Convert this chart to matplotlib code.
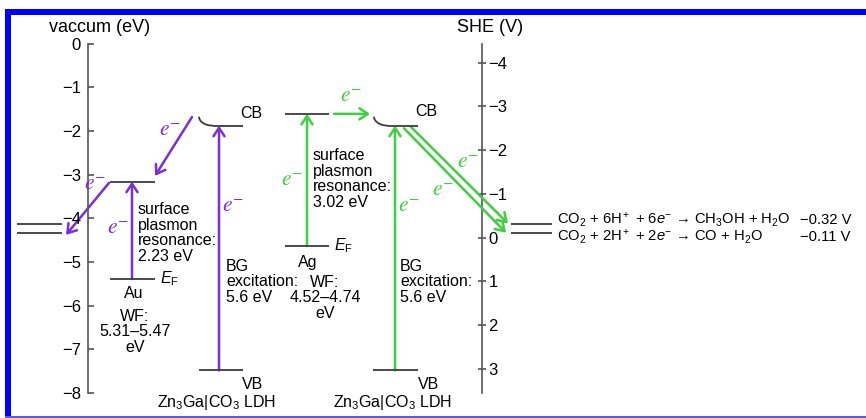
import matplotlib
matplotlib.use('Agg')
import matplotlib.pyplot as plt
import numpy as np
from matplotlib.patches import FancyArrowPatch, Rectangle

plt.rcParams['font.family'] = ['Liberation Sans', 'DejaVu Sans']
plt.rcParams['mathtext.fontset'] = 'custom'
plt.rcParams['mathtext.rm'] = 'Liberation Sans'
plt.rcParams['mathtext.it'] = 'Liberation Sans:italic'
plt.rcParams['mathtext.bf'] = 'Liberation Sans:bold'

# ---------------- data ----------------
vac_ticks = [0, -1, -2, -3, -4, -5, -6, -7, -8]
vac_ticklabels = ['0', '−1', '−2', '−3', '−4', '−5', '−6', '−7', '−8']
she_ticks = [-4, -3, -2, -1, 0, 1, 2, 3]
she_ticklabels = ['−4', '−3', '−2', '−1', '0', '1', '2', '3']
she_offset = 4.44            # E_vac = -(V_SHE + 4.44)
au_wf_range = [5.31, 5.47]   # eV
ag_wf_range = [4.52, 4.74]   # eV
au_spr = 2.23                # eV
ag_spr = 3.02                # eV
ldh_bandgap = 5.6            # eV
ldh_cb = -1.88               # eV vs vacuum
co2_potentials = [-0.32, -0.11]   # V vs SHE
co2_reactions = [r'CO$_2$ + 6H$^+$ + 6$e^{-}$ → CH$_3$OH + H$_2$O',
                 r'CO$_2$ + 2H$^+$ + 2$e^{-}$ → CO + H$_2$O']
co2_values = ['−0.32 V', '−0.11 V']

# derived levels
au_ef = -np.mean(au_wf_range)
au_top = au_ef + au_spr
ag_ef = -np.mean(ag_wf_range)
ag_top = ag_ef + ag_spr
ldh_vb = ldh_cb - ldh_bandgap
co2_E = [-(v + she_offset) for v in co2_potentials]

# ---------------- style ----------------
W, H = 866, 418
PX = 43.7                 # pixels per eV
E_TOP = 43.5 / PX         # energy at top of figure
AXC = '#555555'
LVC = '#3c3c3c'
PURPLE = '#7b2fd6'
GREEN = '#3fcf3f'
FS = 11.5
FS_EQ = 10.6
FS_TICK = 12
FS_TITLE = 13


def Y(py):
    """pixel row (from top) -> energy, for placing labels"""
    return E_TOP - py / PX


fig = plt.figure(figsize=(W / 100, H / 100), dpi=100)
ax = fig.add_axes([0, 0, 1, 1])
ax.set_xlim(0, W)
ax.set_ylim(E_TOP - H / PX, E_TOP)
ax.set_facecolor('none')
for s in ['top', 'right', 'bottom']:
    ax.spines[s].set_visible(False)
ax.spines['left'].set_position(('data', 88))
ax.spines['left'].set_bounds(min(vac_ticks), max(vac_ticks))
ax.spines['left'].set_color(AXC)
ax.spines['left'].set_linewidth(1.2)
ax.set_xticks([])
ax.set_yticks(vac_ticks)
ax.set_yticklabels(vac_ticklabels)
ax.tick_params(axis='y', direction='in', length=4.5, width=1.2, color=AXC,
               pad=5, labelsize=FS_TICK)

sec = ax.secondary_yaxis(482 / W, functions=(lambda E: -E - she_offset,
                                             lambda V: -V - she_offset))
sec.set_yticks(she_ticks)
sec.set_yticklabels(she_ticklabels)
sec.spines['left'].set_visible(False)
sec.spines['right'].set_bounds(-she_offset - max(vac_ticks), -she_offset - min(vac_ticks))
sec.spines['right'].set_color(AXC)
sec.spines['right'].set_linewidth(1.2)
sec.tick_params(axis='y', direction='inout', length=6, width=1.2, color=AXC,
                pad=1.5, labelsize=FS_TICK)

ax.text(100, Y(28), 'vaccum (eV)', ha='center', va='center', fontsize=FS_TITLE)
ax.text(490, Y(28), 'SHE (V)', ha='center', va='center', fontsize=FS_TITLE)


def level(E, x0, x1):
    ax.hlines(E, x0, x1, color=LVC, lw=1.3)


def hook_cb(E, x_start, x_line_end):
    rx, ry = 14, 9 / PX
    t = np.linspace(0, np.pi / 2, 30)
    xs = x_start - rx * np.cos(t)
    ys = E + ry * (1 - np.sin(t))
    ax.plot(xs, ys, color=LVC, lw=1.3, solid_capstyle='butt')
    level(E, x_start, x_line_end)


def arrow(p0, p1, color):
    a = FancyArrowPatch(p0, p1, arrowstyle='->,head_length=0.6,head_width=0.4',
                        mutation_scale=10, color=color, lw=1.8,
                        shrinkA=0, shrinkB=0)
    ax.add_patch(a)


def eminus(x, py, color):
    ax.text(x, Y(py), r'$e^{-}$', color=color, fontsize=15.5, ha='center',
            va='center', math_fontfamily='stix')


# ---- CO2 reduction levels ----
for E in co2_E:
    level(E, 17, 62)
    level(E, 511, 552)
ax.text(557, Y(220), co2_reactions[0], ha='left', va='center', fontsize=FS_EQ)
ax.text(557, Y(237), co2_reactions[1], ha='left', va='center', fontsize=FS_EQ)
ax.text(851, Y(220), co2_values[0], ha='right', va='center', fontsize=FS_EQ)
ax.text(851, Y(237), co2_values[1], ha='right', va='center', fontsize=FS_EQ)

# ---- Au ----
level(au_ef, 110, 155)
level(au_top, 110, 155)
arrow((132, au_ef), (132, au_top), PURPLE)
ax.text(160, au_ef, r'$E_\mathrm{F}$', ha='left', va='center', fontsize=FS)
ax.text(134, Y(294), 'Au', ha='center', va='center', fontsize=FS)
ax.text(135, Y(332), 'WF:\n5.31–5.47\neV', ha='center', va='center',
        fontsize=FS, linespacing=1.02)
ax.text(138, Y(233), 'surface\nplasmon\nresonance:\n2.23 eV', ha='left',
        va='center', fontsize=FS, linespacing=1.07)
eminus(118, 229, PURPLE)
arrow((109, au_top - 0.03), (66, co2_E[1] - 0.05), PURPLE)
eminus(95, 184, PURPLE)

# ---- Zn3Ga|CO3 LDH (left) ----
hook_cb(ldh_cb, 213, 243)
level(ldh_vb, 199, 243)
arrow((219, ldh_vb), (219, ldh_cb), PURPLE)
arrow((192, Y(117)), (155, au_top + 0.13), PURPLE)
eminus(170, 131, PURPLE)
eminus(233, 206, PURPLE)
ax.text(240, Y(113), 'CB', ha='left', va='center', fontsize=FS)
ax.text(242, Y(384), 'VB', ha='left', va='center', fontsize=FS)
ax.text(216, Y(402), r'Zn$_3$Ga|CO$_3$ LDH', ha='center', va='center', fontsize=FS)
ax.text(226, Y(282), 'BG\nexcitation:\n5.6 eV', ha='left', va='center',
        fontsize=FS, linespacing=1.07)

# ---- Ag ----
level(ag_ef, 285, 329)
level(ag_top, 285, 329)
arrow((307, ag_ef), (307, ag_top), GREEN)
ax.text(334, ag_ef, r'$E_\mathrm{F}$', ha='left', va='center', fontsize=FS)
ax.text(308, Y(262), 'Ag', ha='center', va='center', fontsize=FS)
ax.text(325, Y(298), 'WF:\n4.52–4.74\neV', ha='center', va='center',
        fontsize=FS, linespacing=1.02)
ax.text(313, Y(179), 'surface\nplasmon\nresonance:\n3.02 eV', ha='left',
        va='center', fontsize=FS, linespacing=1.07)
eminus(292, 181, GREEN)
arrow((334, ag_top), (370, ag_top), GREEN)
eminus(351, 96, GREEN)

# ---- Zn3Ga|CO3 LDH (right) ----
hook_cb(ldh_cb, 388, 418)
level(ldh_vb, 373, 418)
arrow((395, ldh_vb), (395, ldh_cb), GREEN)
eminus(409, 206, GREEN)
ax.text(415, Y(112), 'CB', ha='left', va='center', fontsize=FS)
ax.text(418, Y(384), 'VB', ha='left', va='center', fontsize=FS)
ax.text(392, Y(402), r'Zn$_3$Ga|CO$_3$ LDH', ha='center', va='center', fontsize=FS)
ax.text(400, Y(282), 'BG\nexcitation:\n5.6 eV', ha='left', va='center',
        fontsize=FS, linespacing=1.07)
# double transfer arrows to CO2 levels
arrow((411, ldh_cb - 0.03), (508, co2_E[0]), GREEN)
arrow((404, ldh_cb - 0.06), (506, co2_E[1]), GREEN)
eminus(468, 162, GREEN)
eminus(443, 190, GREEN)

# ---- blue frame ----
fig.add_artist(Rectangle((5 / W, 1 - 15 / H), (W - 5) / W, 6 / H,
                         transform=fig.transFigure, color='#0000ff', lw=0))
fig.add_artist(Rectangle((5 / W, 0), 6 / W, 1 - 9 / H,
                         transform=fig.transFigure, color='#0000ff', lw=0))
fig.add_artist(Rectangle((5 / W, 0), (W - 5) / W, 2 / H,
                         transform=fig.transFigure, color='#5a5ae0', lw=0))

fig.savefig('out.png', dpi=100)
